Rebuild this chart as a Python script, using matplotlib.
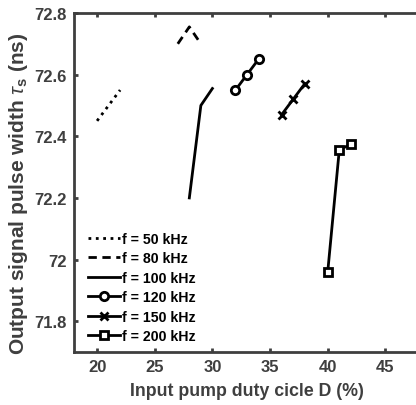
import matplotlib
matplotlib.use("Agg")
import matplotlib.pyplot as plt

plt.rcParams['font.family'] = ['Liberation Sans', 'DejaVu Sans']
plt.rcParams['mathtext.fontset'] = 'custom'
plt.rcParams['mathtext.it'] = 'Liberation Sans:italic'
plt.rcParams['mathtext.rm'] = 'Liberation Sans:bold'

# data
d_50 = [20, 22]
t_50 = [72.45, 72.55]
d_80 = [27, 28, 29]
t_80 = [72.70, 72.755, 72.70]
d_100 = [28, 29, 30]
t_100 = [72.20, 72.50, 72.555]
d_120 = [32, 33, 34]
t_120 = [72.55, 72.60, 72.65]
d_150 = [36, 37, 38]
t_150 = [72.47, 72.52, 72.57]
d_200 = [40, 41, 42]
t_200 = [71.96, 72.355, 72.375]

xticks = [20, 25, 30, 35, 40, 45]
yticks = [71.8, 72.0, 72.2, 72.4, 72.6, 72.8]
ytick_labels = ['71.8', '72', '72.2', '72.4', '72.6', '72.8']

grey = '#3f3f3f'
fig = plt.figure(figsize=(4.16, 4.06), dpi=100)
ax = fig.add_axes([74 / 416, 53 / 406, 346 / 416, 339 / 406])

lw = 2
ms = 6
ax.plot(d_50, t_50, ':', color='k', lw=lw, label='f = 50 kHz')
ax.plot(d_80, t_80, '--', color='k', lw=lw, dashes=(3, 2), label='f = 80 kHz')
ax.plot(d_100, t_100, '-', color='k', lw=lw, label='f = 100 kHz')
ax.plot(d_120, t_120, '-o', color='k', lw=lw, ms=ms, mew=2, mfc='white', label='f = 120 kHz')
ax.plot(d_150, t_150, '-x', color='k', lw=lw, ms=ms, mew=2, label='f = 150 kHz')
ax.plot(d_200, t_200, '-s', color='k', lw=lw, ms=ms, mew=2, mfc='white', label='f = 200 kHz')

ax.set_xlim(18, 48)
ax.set_ylim(71.7, 72.8)
ax.set_xticks(xticks)
ax.set_yticks(yticks)
ax.set_yticklabels(ytick_labels)

for s in ax.spines.values():
    s.set_color(grey)
    s.set_linewidth(2)
ax.tick_params(direction='in', top=True, right=True, length=3, width=2,
               color=grey, labelcolor=grey, labelsize=12, pad=5)
for lab in ax.get_xticklabels() + ax.get_yticklabels():
    lab.set_fontweight('bold')

ax.set_xlabel('Input pump duty cicle D (%)', fontsize=12.8, fontweight='bold',
              color=grey, labelpad=6)
ax.set_ylabel(r'Output signal pulse width $\tau_{\mathrm{s}}$ (ns)', fontsize=15,
              fontweight='bold', color=grey)
ax.yaxis.set_label_coords(-0.128, 0.47)

leg = ax.legend(loc='lower left', frameon=False, fontsize=10.2, handlelength=2.25,
                handletextpad=0.1, labelspacing=0.38, borderaxespad=0.0,
                bbox_to_anchor=(0.025, 0.01))
for t in leg.get_texts():
    t.set_fontweight('bold')

fig.savefig('out.png', dpi=100)
